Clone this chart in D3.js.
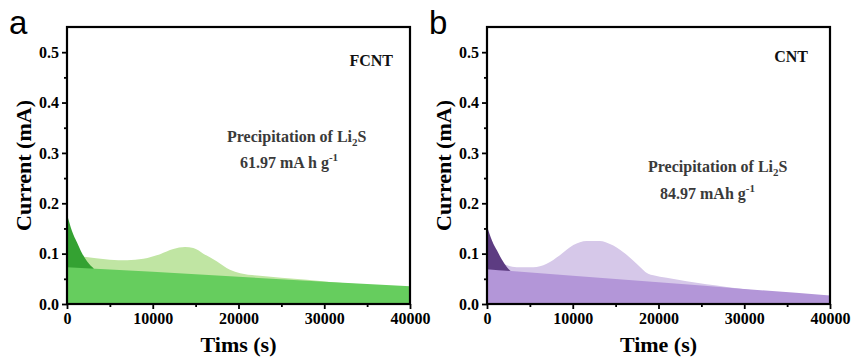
<!DOCTYPE html>
<html>
<head>
<meta charset="utf-8">
<script src="https://cdn.jsdelivr.net/npm/d3@7"></script>
<style>
  body { margin: 0; background: #fff; }
  svg { display: block; }
</style>
</head>
<body>
<svg id="chart" width="851" height="360"></svg>
<script>
// Shared axis ticks
const xTicks = [0, 10000, 20000, 30000, 40000];
const xMinorTicks = [5000, 15000, 25000, 35000];
const yTicks = [0, 0.1, 0.2, 0.3, 0.4, 0.5];
const yMinorTicks = [0.05, 0.15, 0.25, 0.35, 0.45];

// FCNT: [time (s), current (mA)]
const fcntDecay = [[0, 0.178], [580, 0.145], [1170, 0.122], [1750, 0.101], [2330, 0.085], [3100, 0.071]];
const fcntTotal = [[2000, 0.094], [3400, 0.091], [5000, 0.088], [7000, 0.087], [8900, 0.090],
  [10850, 0.099], [12400, 0.109], [13760, 0.113], [14730, 0.111], [15900, 0.100], [17450, 0.085],
  [19000, 0.068], [20200, 0.061], [22500, 0.056], [25000, 0.052], [28000, 0.048], [31000, 0.043],
  [40000, 0.034]];
const fcntBase = [[0, 0.073], [10000, 0.064], [20000, 0.054], [30000, 0.044], [40000, 0.035]];

// CNT: [time (s), current (mA)]
const cntDecay = [[0, 0.155], [580, 0.126], [1170, 0.106], [1750, 0.088], [2330, 0.073], [2920, 0.063]];
const cntTotal = [[2000, 0.079], [3460, 0.073], [5400, 0.073], [6960, 0.080], [8500, 0.097],
  [10070, 0.117], [11620, 0.125], [13180, 0.125], [14340, 0.119], [15900, 0.103], [17450, 0.080],
  [18800, 0.060], [19400, 0.057], [20950, 0.052], [23280, 0.045], [25600, 0.039], [27950, 0.034],
  [30280, 0.029], [40000, 0.015]];
const cntBase = [[0, 0.069], [10000, 0.056], [20000, 0.043], [30000, 0.030], [40000, 0.017]];

const panels = [
  {
    letter: "a", left: 67, right: 410, xTitle: "Tims (s)", sample: "FCNT",
    capacity: "61.97 mA h g", samplePos: [393, 66], notePos: [227, 142], capPos: [240, 168],
    decay: fcntDecay, total: fcntTotal, base: fcntBase,
    colors: { total: "#c0e5a3", decay: "#34a232", base: "#66cd5e" }
  },
  {
    letter: "b", left: 487, right: 830, xTitle: "Time (s)", sample: "CNT",
    capacity: "84.97 mAh g", samplePos: [808, 62], notePos: [648, 172], capPos: [660, 199],
    decay: cntDecay, total: cntTotal, base: cntBase,
    colors: { total: "#d6c8e9", decay: "#5d3c82", base: "#b396d8" }
  }
];

const plotTop = 27, plotBottom = 304;
const serif = "'Liberation Serif', 'Times New Roman', serif";
const svg = d3.select("#chart");
svg.append("rect").attr("width", 851).attr("height", 360).attr("fill", "#fff");

panels.forEach(p => {
  const x = d3.scaleLinear().domain([0, 40000]).range([p.left, p.right]);
  const y = d3.scaleLinear().domain([0, 0.55]).range([plotBottom, plotTop]);
  const g = svg.append("g");

  const area = d3.area()
    .x(d => x(d[0]))
    .y0(y(0))
    .y1(d => y(d[1]))
    .curve(d3.curveMonotoneX);

  // Overall current, initial decay, then the linear baseline on top
  g.append("path").datum(p.total).attr("d", area).attr("fill", p.colors.total);
  g.append("path").datum(p.decay).attr("d", area).attr("fill", p.colors.decay);
  g.append("path").datum(p.base).attr("d", area).attr("fill", p.colors.base);

  // Axes
  g.append("g").attr("transform", `translate(0,${plotBottom})`)
    .call(d3.axisBottom(x).tickValues(xTicks).tickSize(5).tickPadding(4).tickFormat(d3.format("d")));
  g.append("g").attr("transform", `translate(0,${plotBottom})`)
    .call(d3.axisBottom(x).tickValues(xMinorTicks).tickSize(3).tickFormat(""));
  g.append("g").attr("transform", `translate(${p.left},0)`)
    .call(d3.axisLeft(y).tickValues(yTicks).tickSize(5).tickPadding(3).tickFormat(d3.format(".1f")));
  g.append("g").attr("transform", `translate(${p.left},0)`)
    .call(d3.axisLeft(y).tickValues(yMinorTicks).tickSize(3).tickFormat(""));

  g.selectAll(".domain").remove();
  g.selectAll(".tick line").attr("stroke", "#000").attr("stroke-width", 1.8);
  g.selectAll(".tick text")
    .attr("font-family", serif).attr("font-weight", "bold").attr("font-size", 16).attr("fill", "#000");

  // Frame
  g.append("rect")
    .attr("x", p.left).attr("y", plotTop)
    .attr("width", p.right - p.left).attr("height", plotBottom - plotTop)
    .attr("fill", "none").attr("stroke", "#000").attr("stroke-width", 2.2);

  // Axis titles
  g.append("text")
    .attr("x", (p.left + p.right) / 2).attr("y", 352)
    .attr("text-anchor", "middle")
    .attr("font-family", serif).attr("font-weight", "bold").attr("font-size", 22)
    .text(p.xTitle);
  g.append("text")
    .attr("transform", `translate(${p.left - 36},${(plotTop + plotBottom) / 2}) rotate(-90)`)
    .attr("text-anchor", "middle")
    .attr("font-family", serif).attr("font-weight", "bold").attr("font-size", 22)
    .text("Current (mA)");

  // Panel letter
  g.append("text")
    .attr("x", p.left - 58).attr("y", 34)
    .attr("font-family", "'Liberation Sans', Arial, sans-serif").attr("font-size", 33)
    .text(p.letter);

  // Annotations
  g.append("text")
    .attr("x", p.samplePos[0]).attr("y", p.samplePos[1])
    .attr("text-anchor", "end")
    .attr("font-family", serif).attr("font-weight", "bold").attr("font-size", 16).attr("fill", "#111")
    .text(p.sample);

  const note = g.append("text")
    .attr("x", p.notePos[0]).attr("y", p.notePos[1])
    .attr("font-family", serif).attr("font-weight", "bold").attr("font-size", 16).attr("fill", "#3a3a3a");
  note.append("tspan").text("Precipitation of Li");
  note.append("tspan").attr("font-size", 11).attr("dy", 4).text("2");
  note.append("tspan").attr("dy", -4).text("S");

  const cap = g.append("text")
    .attr("x", p.capPos[0]).attr("y", p.capPos[1])
    .attr("font-family", serif).attr("font-weight", "bold").attr("font-size", 16).attr("fill", "#3a3a3a");
  cap.append("tspan").text(p.capacity);
  cap.append("tspan").attr("font-size", 11).attr("dy", -7).text("-1");
});
</script>
</body>
</html>
